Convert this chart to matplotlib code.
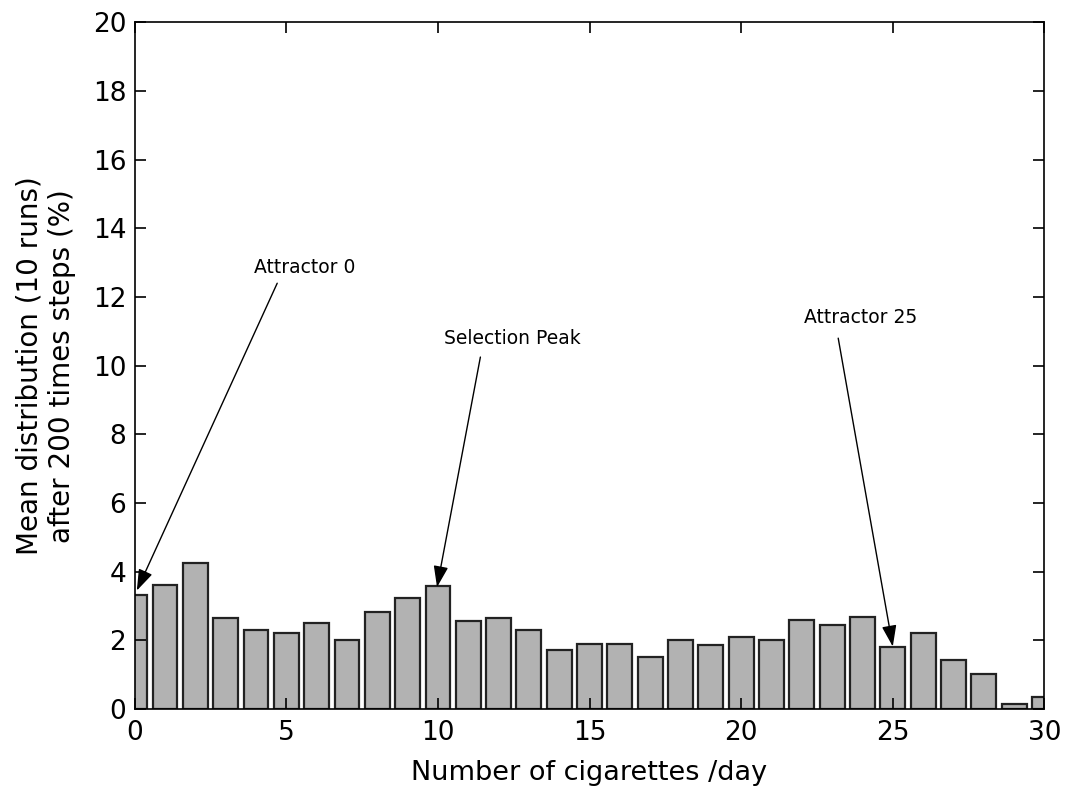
import numpy as np
import matplotlib
matplotlib.use('Agg')
import matplotlib.pyplot as plt

plt.rcParams['font.family'] = ['DejaVu Sans']

# cigarettes per day and mean share (%) after 200 time steps
cigs = list(range(31))
share = [3.32, 3.61, 4.24, 2.64, 2.30, 2.21, 2.50, 2.01, 2.84, 3.23,
         3.57, 2.55, 2.64, 2.30, 1.72, 1.90, 1.90, 1.52, 2.01, 1.86,
         2.10, 2.01, 2.59, 2.44, 2.68, 1.81, 2.20, 1.42, 1.02, 0.15,
         0.34]

notes = ['Attractor 0', 'Selection Peak', 'Attractor 25']
note_xy = [(0.07, 3.45), (9.97, 3.55), (25.0, 1.82)]
note_text = [(5.6, 12.85), (12.45, 10.8), (23.95, 11.4)]
note_start = [(4.7, 12.4), (11.4, 10.25), (23.2, 10.8)]

fig = plt.figure(figsize=(10.69, 7.94), dpi=100)
ax = fig.add_axes([0.126, 0.107, 0.851, 0.865])

ax.bar(cigs, share, width=0.82, color='#b2b2b2', edgecolor='#222222', linewidth=1.6)

for label, tip, txt, start in zip(notes, note_xy, note_text, note_start):
	ax.text(txt[0], txt[1], label, ha='center', va='center', fontsize=13.5)
	ax.annotate('', xy=tip, xytext=start,
	            arrowprops=dict(arrowstyle='-|>,head_length=1.3,head_width=0.45',
	                            color='black', lw=1.0, shrinkA=0, shrinkB=0))

ax.set_xlim(0, 30)
ax.set_ylim(0, 20)
ax.set_xticks(range(0, 31, 5))
ax.set_yticks(range(0, 21, 2))
ax.tick_params(direction='in', top=True, right=True, length=8, width=1.2,
               labelsize=19)
ax.tick_params(axis='x', pad=8)
ax.tick_params(axis='y', pad=6)
for s in ax.spines.values():
	s.set_linewidth(1.2)

ax.set_xlabel('Number of cigarettes /day', fontsize=19.5, labelpad=10)
ax.set_ylabel('Mean distribution (10 runs)\nafter 200 times steps (%)', fontsize=20,
              labelpad=12, linespacing=1.2)

fig.savefig('out.png', dpi=100)
